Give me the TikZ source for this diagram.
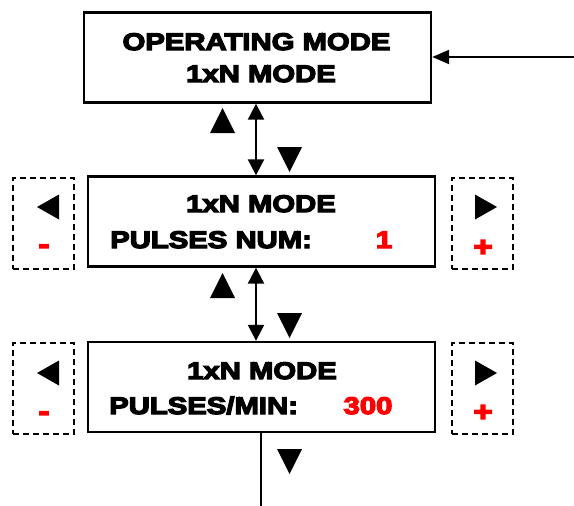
\documentclass[tikz,border=0pt]{standalone}
\usepackage{fontspec}
\usetikzlibrary{arrows.meta}
\newfontfamily\boldwide{Liberation Sans Bold}[FakeStretch=1.22,FakeBold=5.5]
\definecolor{valred}{RGB}{255,0,0}
\tikzset{
  screen/.style={draw=black, line width=2.4pt, minimum width=347pt, minimum height=90pt, inner sep=0pt},
  keybox/.style={draw=black, line width=1.5pt, dash pattern=on 6pt off 4pt, minimum width=61pt, minimum height=91pt, inner sep=0pt},
  lcd/.style={font=\boldwide\fontsize{24pt}{26pt}\selectfont, inner sep=0pt, anchor=base},
  lcdval/.style={lcd, text=valred},
  sign/.style={font=\boldwide\fontsize{27pt}{28pt}\selectfont, inner sep=0pt, text=valred},
  bothtips/.style={arrows={Triangle[length=16pt,width=16pt]-Triangle[length=16pt,width=16pt]}},
  endtip/.style={arrows={-Triangle[length=17pt,width=14pt]}},
  link/.style={line width=2.2pt, bothtips},
  feed/.style={line width=2.2pt, endtip},
  plain/.style={line width=2pt}
}
\newcommand{\triup}[2]{\fill (#1-12.5,#2+12.5) -- (#1+12.5,#2+12.5) -- (#1,#2-12.5) -- cycle;}
\newcommand{\tridown}[2]{\fill (#1-12.5,#2-12.5) -- (#1+12.5,#2-12.5) -- (#1,#2+12.5) -- cycle;}
\newcommand{\trileft}[2]{\fill (#1+11,#2-12.5) -- (#1+11,#2+12.5) -- (#1-11,#2) -- cycle;}
\newcommand{\triright}[2]{\fill (#1-11,#2-12.5) -- (#1-11,#2+12.5) -- (#1+11,#2) -- cycle;}
\begin{document}
\begin{tikzpicture}[x=1pt,y=-1pt]
\useasboundingbox (0,0) rectangle (574,506);
% screens
\node[screen] (top) at (257.5,57.5) {};
\node[screen] (mid) at (261.5,221.5) {};
\node[screen] (bot) at (261.5,387) {};
% key boxes
\node[keybox] (midL) at (43.5,223.5) {};
\node[keybox] (midR) at (482.5,223.5) {};
\node[keybox] (botL) at (43.5,388.5) {};
\node[keybox] (botR) at (482.5,388.5) {};
% texts
\node[lcd] (t1) at (256.5,50) {OPERATING MODE};
\node[lcd] (t2) at (261,82) {1xN MODE};
\node[lcd] (m1) at (261,212) {1xN MODE};
\node[lcd, anchor=base west] (m2) at (110,248) {PULSES NUM:};
\node[lcdval] (m3) at (384,248) {1};
\node[lcd] (b1) at (262,379) {1xN MODE};
\node[lcd, anchor=base west] (b2) at (109,414) {PULSES/MIN:};
\node[lcdval] (b3) at (368,414) {300};
% key signs
\node[sign] (mminus) at (44,249) {-};
\node[sign] (mplus) at (483,248) {+};
\node[sign] (bminus) at (44,416) {-};
\node[sign] (bplus) at (483,413) {+};
\trileft{48}{207}
\triright{486}{207}
\trileft{48}{373}
\triright{486}{373}
% connectors
\coordinate (in) at (574,57);
\draw[feed] (in) -- (top.east |- in);
\draw[link] (top.south -| 256,0) -- (mid.north -| 256,0);
\draw[link] (mid.south -| 256,0) -- (bot.north -| 256,0);
\coordinate (out) at (261,506);
\draw[plain] (bot.south -| out) -- (out);
% navigation triangles
\triup{222.5}{120.5}
\tridown{289.5}{159.5}
\triup{222.5}{285.5}
\tridown{289.5}{325.5}
\tridown{289.5}{461.5}
\end{tikzpicture}
\end{document}
